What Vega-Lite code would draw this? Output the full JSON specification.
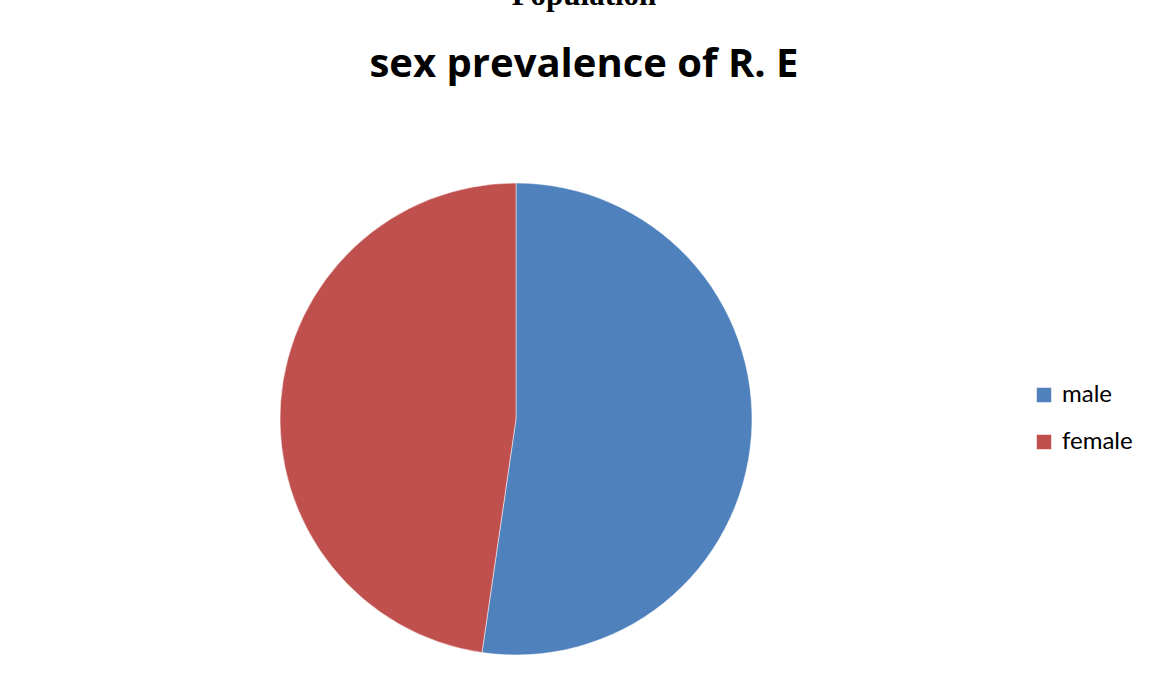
{
  "$schema": "https://vega.github.io/schema/vega-lite/v6.json",
  "autosize": "none",
  "width": 472,
  "height": 472,
  "padding": {"left": 280, "top": 183, "right": 399, "bottom": 24},
  "background": "white",
  "title": {
    "text": "Population",
    "subtitle": "sex prevalence of R. E",
    "font": "Liberation Serif",
    "fontSize": 31,
    "fontWeight": "bold",
    "color": "black",
    "subtitleFont": "Open Sans",
    "subtitleFontSize": 40,
    "subtitleFontWeight": "bold",
    "subtitleColor": "black",
    "subtitlePadding": 33,
    "anchor": "middle",
    "offset": 96,
    "dx": 68
  },
  "data": {
    "values": [
      {"sex": "male", "value": 52.3},
      {"sex": "female", "value": 47.7}
    ]
  },
  "mark": {"type": "arc", "radius": 236, "stroke": "white", "strokeWidth": 0.5},
  "encoding": {
    "theta": {"field": "value", "type": "quantitative", "stack": true},
    "order": {"field": "sex", "sort": "descending"},
    "color": {
      "field": "sex",
      "type": "nominal",
      "scale": {"domain": ["male", "female"], "range": ["#4F81BD", "#C0504D"]},
      "legend": {
        "title": null,
        "orient": "none",
        "legendX": 752,
        "legendY": 200,
        "padding": 0,
        "symbolType": "square",
        "symbolSize": 210,
        "symbolStrokeWidth": 0,
        "labelFont": "Lato",
        "labelFontSize": 24,
        "labelColor": "black",
        "labelOffset": 6,
        "rowPadding": 23
      }
    }
  },
  "config": {"view": {"stroke": null}}
}
